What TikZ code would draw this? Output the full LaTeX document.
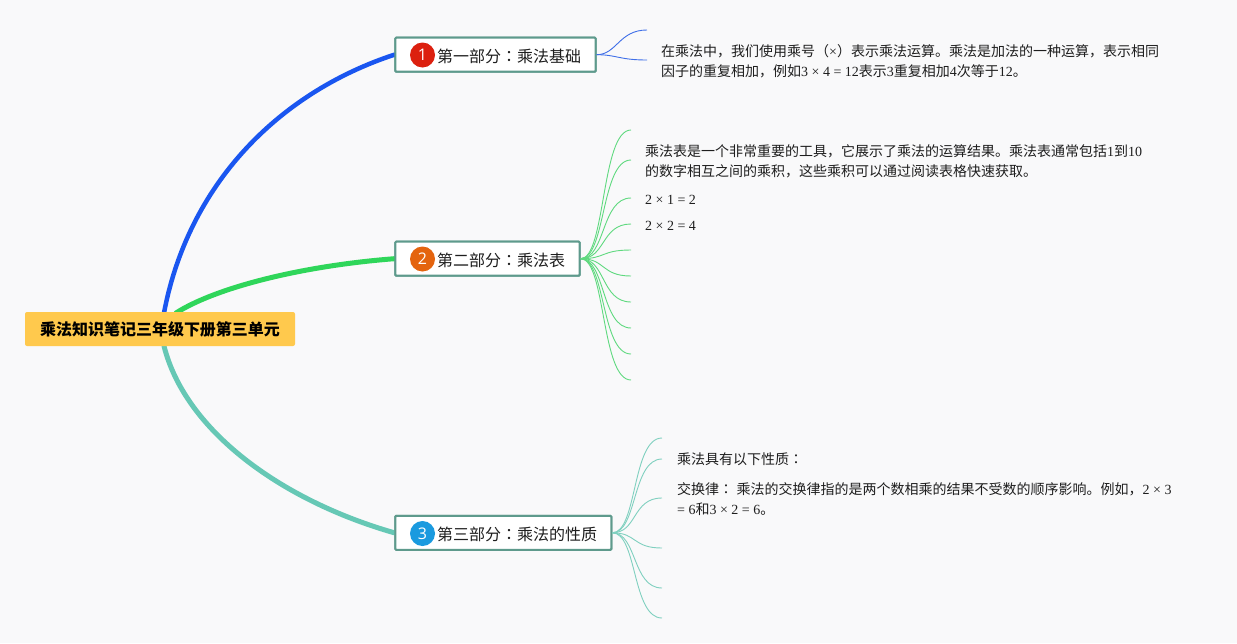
\documentclass[tikz,border=0pt]{standalone}
\usetikzlibrary{calc}
\usepackage{fontspec}
\setmainfont{Liberation Serif}
\newfontfamily\cjk{Noto Sans CJK SC}
\newfontfamily\cjkjp{Noto Sans CJK JP}
\newfontfamily\numf{Open Sans}
\definecolor{bgc}{HTML}{F9F9FA}
\definecolor{rootc}{HTML}{FFC94D}
\definecolor{bluec}{HTML}{1A56F0}
\definecolor{greenc}{HTML}{2FD65A}
\definecolor{tealc}{HTML}{66C8B5}
\definecolor{boxc}{HTML}{5E9A8C}
\definecolor{leafblue}{HTML}{3F6FE8}
\definecolor{leafgreen}{HTML}{5FD97F}
\definecolor{leafteal}{HTML}{7FD0BF}
\definecolor{txt}{HTML}{1E1E1E}
\definecolor{badgered}{HTML}{DC200F}
\definecolor{badgeorange}{HTML}{E4640F}
\definecolor{badgeblue}{HTML}{1A9ADF}
\tikzset{
  x=1pt,y=-1pt,
  rootbox/.style={fill=rootc,rounded corners=2pt,minimum width=270pt,minimum height=34pt,inner sep=0pt,font=\cjk\fontsize{16}{18}\selectfont\bfseries,text=black},
  topicbox/.style={draw=boxc,line width=2pt,fill=white,rounded corners=1pt,minimum height=34pt,inner sep=0pt},
  topictext/.style={anchor=west,inner sep=0pt,font=\cjk\fontsize{16}{20}\selectfont,text=txt},
  badge/.style={circle,minimum size=25pt,inner sep=0pt,text=white,font=\numf\fontsize{16}{16}\selectfont},
  note/.style={anchor=west,inner sep=0pt,align=left,font=\fontsize{14}{22}\selectfont,text=txt},
  bigline/.style={line width=#1,line cap=round},
  leaf/.style={line width=0.9pt}
}
\newcommand{\zh}[1]{{\cjk\fontsize{14}{22}\selectfont #1}}
\newcommand{\cln}[1]{{\cjkjp\fontsize{#1}{22}\selectfont ：}}
\begin{document}
\begin{tikzpicture}
\useasboundingbox[fill=bgc] (0,0) rectangle (1237,643);
% free ends
\coordinate (r1) at (164,313);
\coordinate (r2) at (176,313);
\coordinate (r3) at (164,346);
\foreach \n/\y in {a/30,b/60}{\coordinate (l1\n) at (647,\y);}
\foreach \n/\y in {a/130,b/160,c/198,d/224,e/250,f/276,g/302,h/328,i/354,j/380}{\coordinate (l2\n) at (631,\y);}
\foreach \n/\y in {a/438,b/459,c/498,d/548,e/588,f/618}{\coordinate (l3\n) at (662,\y);}
% main nodes
\node[topicbox,minimum width=200.4pt] (t1) at (495.5,54.7) {};
\node[topicbox,minimum width=184.4pt] (t2) at (487.5,258.7) {};
\node[topicbox,minimum width=216pt] (t3) at (503.3,532.8) {};
% main branches
\draw[bigline=4.5pt,bluec] (r1) .. controls (188,185) and (278,93) .. (t1.west);
\draw[bigline=5pt,greenc] (r2) .. controls (215,288) and (300,266) .. (t2.west);
\draw[bigline=5pt,tealc] (r3) .. controls (185,430) and (280,500) .. (t3.west);
\node[rootbox] (root) at (160,329) {乘法知识笔记三年级下册第三单元};
% redraw tops
\node[topicbox,minimum width=200.4pt] at (495.5,54.7) {};
\node[topicbox,minimum width=184.4pt] at (487.5,258.7) {};
\node[topicbox,minimum width=216pt] at (503.3,532.8) {};
\node[badge,fill=badgered] (b1) at (422.5,55) {1};
\node[badge,fill=badgeorange] (b2) at (422.5,259) {2};
\node[badge,fill=badgeblue] (b3) at (422.5,533.5) {3};
\node[topictext] (x1) at (437,56) {第一部分\cln{16}乘法基础};
\node[topictext] (x2) at (437,260) {第二部分\cln{16}乘法表};
\node[topictext] (x3) at (437,534.5) {第三部分\cln{16}乘法的性质};
% leaves
\foreach \n in {a,b}{\draw[leaf,leafblue] (t1.east) .. controls +(20,0) and ($(l1\n)+(-28,0)$) .. (l1\n);}
\foreach \n in {a,b,c,d,e,f,g,h,i,j}{\draw[leaf,leafgreen] (t2.east) .. controls +(25,0) and ($(l2\n)+(-30,0)$) .. (l2\n);}
\foreach \n in {a,b,c,d,e,f}{\draw[leaf,leafteal] (t3.east) .. controls +(25,0) and ($(l3\n)+(-30,0)$) .. (l3\n);}
% notes
\node[note] (n1a) at (661,51) {\zh{在乘法中，我们使用乘号（}×\zh{）表示乘法运算。乘法是加法的一种运算，表示相同}};
\node[note] (n1b) at (661,71) {\zh{因子的重复相加，例如}3 × 4 = 12\zh{表示}3\zh{重复相加}4\zh{次等于}12\zh{。}};
\node[note] (n2a) at (645,151) {\zh{乘法表是一个非常重要的工具，它展示了乘法的运算结果。乘法表通常包括}1\zh{到}10};
\node[note] (n2b) at (645,171) {\zh{的数字相互之间的乘积，这些乘积可以通过阅读表格快速获取。}};
\node[note] (n2c) at (645,200) {2 × 1 = 2};
\node[note] (n2d) at (645,226) {2 × 2 = 4};
\node[note] (n3a) at (677,459) {\zh{乘法具有以下性质}\cln{14}};
\node[note] (n3b) at (677,489) {\zh{交换律}\cln{14} \zh{乘法的交换律指的是两个数相乘的结果不受数的顺序影响。例如，}2 × 3};
\node[note] (n3c) at (677,509) {= 6\zh{和}3 × 2 = 6\zh{。}};
\end{tikzpicture}
\end{document}
